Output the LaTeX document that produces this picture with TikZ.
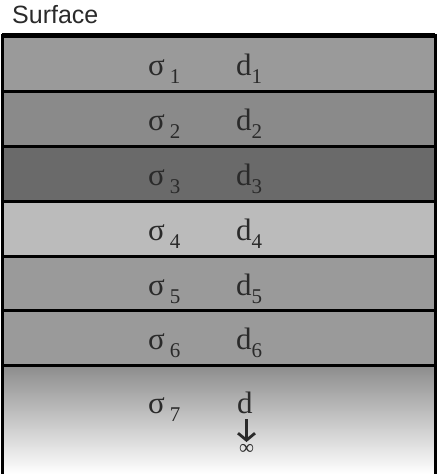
\documentclass[tikz,border=0pt]{standalone}
\usepackage{fontspec}
\setmainfont{Liberation Serif}
\newfontfamily\labelsans{Liberation Sans}
\usetikzlibrary{arrows.meta}
\definecolor{inkgray}{HTML}{2A2A2A}
\definecolor{layerA}{HTML}{9A9A9A}
\definecolor{layerB}{HTML}{8A8A8A}
\definecolor{layerC}{HTML}{6A6A6A}
\definecolor{layerD}{HTML}{BBBBBB}
\definecolor{halfspace}{HTML}{8C8C8C}
% sigma with a spaced, lowered index; d with a tight lowered index
\newcommand\sigmalabel[1]{σ\kern5pt\raisebox{-8pt}{\fontsize{21}{21}\selectfont #1}}
\newcommand\depthlabel[1]{d\raisebox{-8pt}{\fontsize{21}{21}\selectfont #1}}
\begin{document}
\begin{tikzpicture}[x=1pt,y=-1pt,
  layerbox/.style={draw=black,line width=3pt,minimum width=433pt,inner sep=0pt,outer sep=0pt,anchor=north west},
  lbl/.style={text=inkgray,font=\fontsize{31}{31}\selectfont,anchor=base west,inner sep=0pt}]
\useasboundingbox (0,0) rectangle (437,474);
\node[anchor=base west,inner sep=0pt,text=inkgray,font=\labelsans\fontsize{25}{25}\selectfont] (surf) at (12,23.5) {Surface};
% half-space with gradient, open at the bottom
\shade[top color=halfspace,bottom color=white] (2,365) rectangle (435,474);
\node[layerbox,fill=layerA,minimum height=56pt] (L1) at (2,35) {};
\node[layerbox,fill=layerB,minimum height=55pt] (L2) at (2,91) {};
\node[layerbox,fill=layerC,minimum height=55pt] (L3) at (2,146) {};
\node[layerbox,fill=layerD,minimum height=55pt] (L4) at (2,201) {};
\node[layerbox,fill=layerA,minimum height=54pt] (L5) at (2,256) {};
\node[layerbox,fill=layerA,minimum height=55pt] (L6) at (2,310) {};
\draw[line width=5pt] (L1.north west) -- (L1.north east);
\draw[line width=3pt] (2,365) -- (2,474) (435,365) -- (435,474);
% layer labels
\foreach \i/\y in {1/75,2/130,3/185,4/240,5/295,6/349}{
  \node[lbl] (s\i) at (148,\y) {\sigmalabel{\i}};
  \node[lbl] (d\i) at (236,\y) {\depthlabel{\i}};
}
\node[lbl] (s7) at (148,413) {\sigmalabel{7}};
\node[lbl] (d7) at (237,413) {d};
\node[text=inkgray,font=\fontsize{21}{21}\selectfont,inner sep=0pt] (inf) at (246.5,449) {∞};
\draw[inkgray,line width=2.8pt,-{Straight Barb[length=7pt,width=17pt,line width=2.8pt]}] (246.5,419) -- (246.5,442);
\end{tikzpicture}
\end{document}
